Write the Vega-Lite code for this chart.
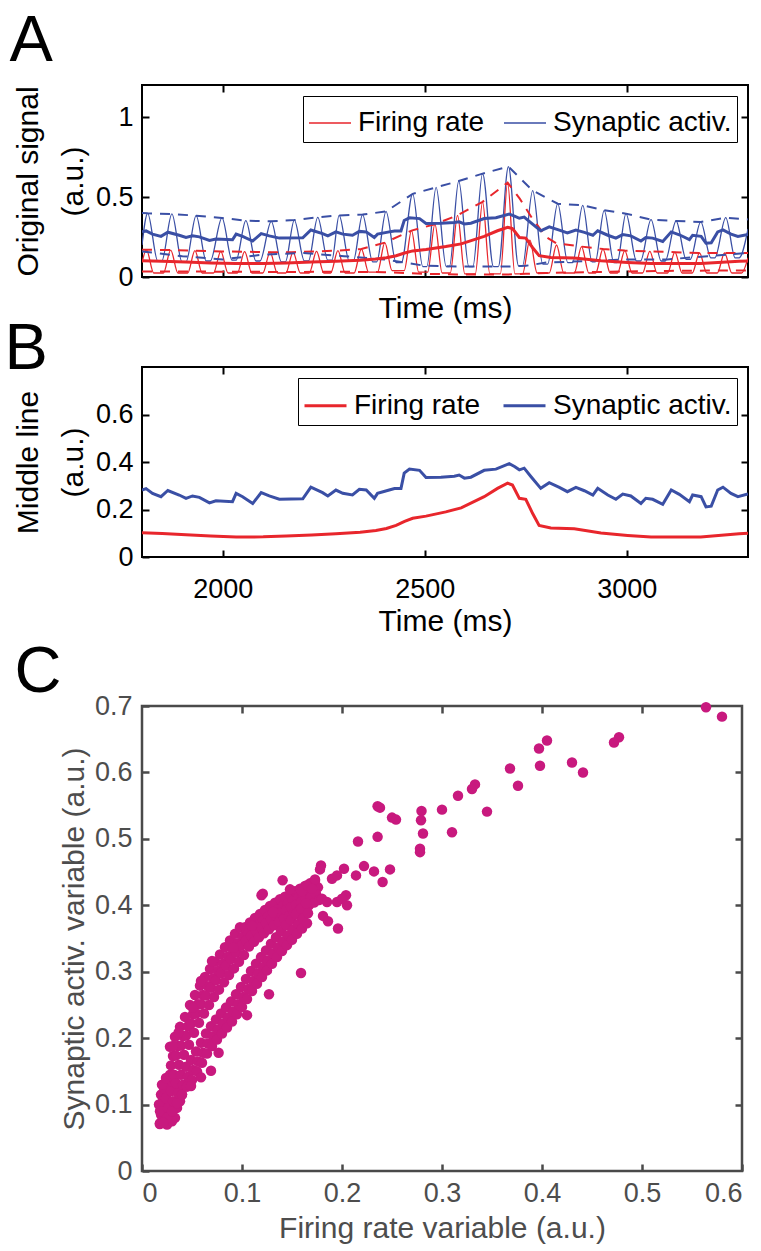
{
  "$schema": "https://vega.github.io/schema/vega-lite/v6.json",
  "background": "white",
  "padding": {"left": 3, "top": 8, "right": 0, "bottom": 0},
  "spacing": -8,
  "config": {
    "font": "Liberation Sans",
    "view": {"stroke": "black", "strokeWidth": 2},
    "axis": {"grid": false, "domain": false, "labelFont": "Liberation Sans", "titleFont": "Liberation Sans", "labelFontSize": 27, "titleFontSize": 30, "titleFontWeight": "normal", "labelColor": "black", "titleColor": "black", "tickColor": "black", "tickWidth": 2, "tickSize": 7, "offset": -7},
    "title": {"font": "Liberation Sans", "fontSize": 65, "fontWeight": "normal", "anchor": "start", "frame": "bounds", "color": "black"},
    "legend": {"title": null, "orient": "top-right", "direction": "horizontal", "offset": 11, "padding": 5, "strokeColor": "black", "fillColor": "white", "labelFont": "Liberation Sans", "labelFontSize": 28, "labelColor": "black", "labelOffset": 6, "labelLimit": 0, "symbolType": "stroke", "symbolSize": 1764, "columnPadding": 16, "symbolDash": [1, 0]}
  },
  "datasets": {
    "raw": [
      {"s":"Synaptic activ.","t":1800,"v":0.20},{"s":"Synaptic activ.","t":1814,"v":0.398},{"s":"Synaptic activ.","t":1839,"v":0.10},{"s":"Synaptic activ.","t":1849,"v":0.10},
      {"s":"Synaptic activ.","t":1874,"v":0.394},{"s":"Synaptic activ.","t":1899,"v":0.095},{"s":"Synaptic activ.","t":1909,"v":0.095},
      {"s":"Synaptic activ.","t":1934,"v":0.383},{"s":"Synaptic activ.","t":1959,"v":0.10},{"s":"Synaptic activ.","t":1969,"v":0.10},
      {"s":"Synaptic activ.","t":1998,"v":0.369},{"s":"Synaptic activ.","t":2023,"v":0.105},{"s":"Synaptic activ.","t":2033,"v":0.105},
      {"s":"Synaptic activ.","t":2057,"v":0.352},{"s":"Synaptic activ.","t":2082,"v":0.10},{"s":"Synaptic activ.","t":2092,"v":0.10},
      {"s":"Synaptic activ.","t":2120,"v":0.348},{"s":"Synaptic activ.","t":2145,"v":0.095},{"s":"Synaptic activ.","t":2155,"v":0.095},
      {"s":"Synaptic activ.","t":2177,"v":0.356},{"s":"Synaptic activ.","t":2202,"v":0.10},{"s":"Synaptic activ.","t":2212,"v":0.10},
      {"s":"Synaptic activ.","t":2235,"v":0.373},{"s":"Synaptic activ.","t":2260,"v":0.105},{"s":"Synaptic activ.","t":2270,"v":0.105},
      {"s":"Synaptic activ.","t":2288,"v":0.385},{"s":"Synaptic activ.","t":2313,"v":0.10},{"s":"Synaptic activ.","t":2323,"v":0.10},
      {"s":"Synaptic activ.","t":2346,"v":0.39},{"s":"Synaptic activ.","t":2371,"v":0.095},{"s":"Synaptic activ.","t":2381,"v":0.095},
      {"s":"Synaptic activ.","t":2404,"v":0.41},{"s":"Synaptic activ.","t":2429,"v":0.09},{"s":"Synaptic activ.","t":2442,"v":0.09},
      {"s":"Synaptic activ.","t":2470,"v":0.52},{"s":"Synaptic activ.","t":2495,"v":0.065},{"s":"Synaptic activ.","t":2505,"v":0.065},
      {"s":"Synaptic activ.","t":2528,"v":0.56},{"s":"Synaptic activ.","t":2553,"v":0.065},{"s":"Synaptic activ.","t":2561,"v":0.065},
      {"s":"Synaptic activ.","t":2584,"v":0.60},{"s":"Synaptic activ.","t":2609,"v":0.065},{"s":"Synaptic activ.","t":2619,"v":0.065},
      {"s":"Synaptic activ.","t":2643,"v":0.646},{"s":"Synaptic activ.","t":2670,"v":0.065},{"s":"Synaptic activ.","t":2682,"v":0.065},
      {"s":"Synaptic activ.","t":2707,"v":0.69},{"s":"Synaptic activ.","t":2732,"v":0.07},{"s":"Synaptic activ.","t":2742,"v":0.07},
      {"s":"Synaptic activ.","t":2767,"v":0.54},{"s":"Synaptic activ.","t":2792,"v":0.08},{"s":"Synaptic activ.","t":2804,"v":0.08},
      {"s":"Synaptic activ.","t":2829,"v":0.458},{"s":"Synaptic activ.","t":2854,"v":0.09},{"s":"Synaptic activ.","t":2866,"v":0.09},
      {"s":"Synaptic activ.","t":2891,"v":0.448},{"s":"Synaptic activ.","t":2914,"v":0.095},{"s":"Synaptic activ.","t":2922,"v":0.095},
      {"s":"Synaptic activ.","t":2944,"v":0.417},{"s":"Synaptic activ.","t":2968,"v":0.09},{"s":"Synaptic activ.","t":2976,"v":0.09},
      {"s":"Synaptic activ.","t":2998,"v":0.396},{"s":"Synaptic activ.","t":3024,"v":0.10},{"s":"Synaptic activ.","t":3034,"v":0.10},
      {"s":"Synaptic activ.","t":3060,"v":0.358},{"s":"Synaptic activ.","t":3085,"v":0.10},{"s":"Synaptic activ.","t":3095,"v":0.10},
      {"s":"Synaptic activ.","t":3122,"v":0.35},{"s":"Synaptic activ.","t":3147,"v":0.11},{"s":"Synaptic activ.","t":3157,"v":0.11},
      {"s":"Synaptic activ.","t":3183,"v":0.344},{"s":"Synaptic activ.","t":3208,"v":0.12},{"s":"Synaptic activ.","t":3218,"v":0.12},
      {"s":"Synaptic activ.","t":3245,"v":0.371},{"s":"Synaptic activ.","t":3268,"v":0.12},{"s":"Synaptic activ.","t":3278,"v":0.12},
      {"s":"Synaptic activ.","t":3300,"v":0.30},
      {"s":"Firing rate","t":1800,"v":0.09},{"s":"Firing rate","t":1811,"v":0.17},{"s":"Firing rate","t":1829,"v":0.025},{"s":"Firing rate","t":1853,"v":0.025},
      {"s":"Firing rate","t":1871,"v":0.168},{"s":"Firing rate","t":1889,"v":0.025},{"s":"Firing rate","t":1913,"v":0.025},
      {"s":"Firing rate","t":1931,"v":0.165},{"s":"Firing rate","t":1949,"v":0.025},{"s":"Firing rate","t":1977,"v":0.025},
      {"s":"Firing rate","t":1995,"v":0.16},{"s":"Firing rate","t":2013,"v":0.025},{"s":"Firing rate","t":2036,"v":0.025},
      {"s":"Firing rate","t":2054,"v":0.158},{"s":"Firing rate","t":2072,"v":0.025},{"s":"Firing rate","t":2099,"v":0.025},
      {"s":"Firing rate","t":2117,"v":0.155},{"s":"Firing rate","t":2135,"v":0.025},{"s":"Firing rate","t":2156,"v":0.025},
      {"s":"Firing rate","t":2174,"v":0.155},{"s":"Firing rate","t":2192,"v":0.025},{"s":"Firing rate","t":2214,"v":0.025},
      {"s":"Firing rate","t":2232,"v":0.16},{"s":"Firing rate","t":2250,"v":0.025},{"s":"Firing rate","t":2267,"v":0.025},
      {"s":"Firing rate","t":2285,"v":0.165},{"s":"Firing rate","t":2303,"v":0.025},{"s":"Firing rate","t":2325,"v":0.025},
      {"s":"Firing rate","t":2343,"v":0.175},{"s":"Firing rate","t":2361,"v":0.03},{"s":"Firing rate","t":2383,"v":0.03},
      {"s":"Firing rate","t":2401,"v":0.215},{"s":"Firing rate","t":2419,"v":0.04},{"s":"Firing rate","t":2449,"v":0.04},
      {"s":"Firing rate","t":2467,"v":0.29},{"s":"Firing rate","t":2485,"v":0.03},{"s":"Firing rate","t":2507,"v":0.03},
      {"s":"Firing rate","t":2525,"v":0.33},{"s":"Firing rate","t":2543,"v":0.025},{"s":"Firing rate","t":2563,"v":0.025},
      {"s":"Firing rate","t":2581,"v":0.385},{"s":"Firing rate","t":2599,"v":0.02},{"s":"Firing rate","t":2625,"v":0.02},
      {"s":"Firing rate","t":2643,"v":0.47},{"s":"Firing rate","t":2661,"v":0.02},{"s":"Firing rate","t":2687,"v":0.02},
      {"s":"Firing rate","t":2705,"v":0.59},{"s":"Firing rate","t":2723,"v":0.02},{"s":"Firing rate","t":2742,"v":0.02},
      {"s":"Firing rate","t":2760,"v":0.23},{"s":"Firing rate","t":2778,"v":0.025},{"s":"Firing rate","t":2808,"v":0.025},
      {"s":"Firing rate","t":2826,"v":0.20},{"s":"Firing rate","t":2844,"v":0.025},{"s":"Firing rate","t":2870,"v":0.025},
      {"s":"Firing rate","t":2888,"v":0.19},{"s":"Firing rate","t":2906,"v":0.025},{"s":"Firing rate","t":2923,"v":0.025},
      {"s":"Firing rate","t":2941,"v":0.175},{"s":"Firing rate","t":2959,"v":0.025},{"s":"Firing rate","t":2977,"v":0.025},
      {"s":"Firing rate","t":2995,"v":0.165},{"s":"Firing rate","t":3013,"v":0.025},{"s":"Firing rate","t":3039,"v":0.025},
      {"s":"Firing rate","t":3057,"v":0.16},{"s":"Firing rate","t":3075,"v":0.025},{"s":"Firing rate","t":3101,"v":0.025},
      {"s":"Firing rate","t":3119,"v":0.155},{"s":"Firing rate","t":3137,"v":0.025},{"s":"Firing rate","t":3162,"v":0.025},
      {"s":"Firing rate","t":3180,"v":0.15},{"s":"Firing rate","t":3198,"v":0.025},{"s":"Firing rate","t":3224,"v":0.025},
      {"s":"Firing rate","t":3242,"v":0.15},{"s":"Firing rate","t":3260,"v":0.025},{"s":"Firing rate","t":3284,"v":0.025},
      {"s":"Firing rate","t":3300,"v":0.12}
    ],
    "env": [
      {"s":"Firing rate","k":"up","t":1800,"v":0.17},{"s":"Firing rate","k":"up","t":1811,"v":0.17},{"s":"Firing rate","k":"up","t":1871,"v":0.168},{"s":"Firing rate","k":"up","t":1931,"v":0.165},{"s":"Firing rate","k":"up","t":1995,"v":0.16},{"s":"Firing rate","k":"up","t":2054,"v":0.158},{"s":"Firing rate","k":"up","t":2117,"v":0.155},{"s":"Firing rate","k":"up","t":2174,"v":0.155},{"s":"Firing rate","k":"up","t":2232,"v":0.16},{"s":"Firing rate","k":"up","t":2285,"v":0.165},{"s":"Firing rate","k":"up","t":2343,"v":0.175},{"s":"Firing rate","k":"up","t":2401,"v":0.215},{"s":"Firing rate","k":"up","t":2467,"v":0.29},{"s":"Firing rate","k":"up","t":2525,"v":0.33},{"s":"Firing rate","k":"up","t":2581,"v":0.385},{"s":"Firing rate","k":"up","t":2643,"v":0.47},{"s":"Firing rate","k":"up","t":2705,"v":0.59},{"s":"Firing rate","k":"up","t":2735,"v":0.49},{"s":"Firing rate","k":"up","t":2765,"v":0.37},{"s":"Firing rate","k":"up","t":2800,"v":0.25},{"s":"Firing rate","k":"up","t":2826,"v":0.21},{"s":"Firing rate","k":"up","t":2888,"v":0.19},{"s":"Firing rate","k":"up","t":2941,"v":0.175},{"s":"Firing rate","k":"up","t":2995,"v":0.165},{"s":"Firing rate","k":"up","t":3057,"v":0.16},{"s":"Firing rate","k":"up","t":3119,"v":0.155},{"s":"Firing rate","k":"up","t":3180,"v":0.15},{"s":"Firing rate","k":"up","t":3242,"v":0.15},{"s":"Firing rate","k":"up","t":3300,"v":0.15},
      {"s":"Firing rate","k":"lo","t":1800,"v":0.035},{"s":"Firing rate","k":"lo","t":1900,"v":0.035},{"s":"Firing rate","k":"lo","t":2000,"v":0.033},{"s":"Firing rate","k":"lo","t":2100,"v":0.032},{"s":"Firing rate","k":"lo","t":2200,"v":0.032},{"s":"Firing rate","k":"lo","t":2300,"v":0.033},{"s":"Firing rate","k":"lo","t":2400,"v":0.03},{"s":"Firing rate","k":"lo","t":2500,"v":0.02},{"s":"Firing rate","k":"lo","t":2600,"v":0.015},{"s":"Firing rate","k":"lo","t":2700,"v":0.015},{"s":"Firing rate","k":"lo","t":2750,"v":0.02},{"s":"Firing rate","k":"lo","t":2800,"v":0.025},{"s":"Firing rate","k":"lo","t":2900,"v":0.03},{"s":"Firing rate","k":"lo","t":3000,"v":0.035},{"s":"Firing rate","k":"lo","t":3100,"v":0.038},{"s":"Firing rate","k":"lo","t":3200,"v":0.04},{"s":"Firing rate","k":"lo","t":3300,"v":0.04},
      {"s":"Synaptic activ.","k":"up","t":1800,"v":0.40},{"s":"Synaptic activ.","k":"up","t":1814,"v":0.398},{"s":"Synaptic activ.","k":"up","t":1874,"v":0.394},{"s":"Synaptic activ.","k":"up","t":1934,"v":0.383},{"s":"Synaptic activ.","k":"up","t":1998,"v":0.369},{"s":"Synaptic activ.","k":"up","t":2057,"v":0.352},{"s":"Synaptic activ.","k":"up","t":2120,"v":0.348},{"s":"Synaptic activ.","k":"up","t":2177,"v":0.356},{"s":"Synaptic activ.","k":"up","t":2235,"v":0.373},{"s":"Synaptic activ.","k":"up","t":2288,"v":0.385},{"s":"Synaptic activ.","k":"up","t":2346,"v":0.39},{"s":"Synaptic activ.","k":"up","t":2404,"v":0.41},{"s":"Synaptic activ.","k":"up","t":2470,"v":0.52},{"s":"Synaptic activ.","k":"up","t":2528,"v":0.56},{"s":"Synaptic activ.","k":"up","t":2584,"v":0.60},{"s":"Synaptic activ.","k":"up","t":2643,"v":0.646},{"s":"Synaptic activ.","k":"up","t":2707,"v":0.69},{"s":"Synaptic activ.","k":"up","t":2767,"v":0.54},{"s":"Synaptic activ.","k":"up","t":2829,"v":0.458},{"s":"Synaptic activ.","k":"up","t":2891,"v":0.448},{"s":"Synaptic activ.","k":"up","t":2944,"v":0.417},{"s":"Synaptic activ.","k":"up","t":2998,"v":0.396},{"s":"Synaptic activ.","k":"up","t":3060,"v":0.358},{"s":"Synaptic activ.","k":"up","t":3122,"v":0.35},{"s":"Synaptic activ.","k":"up","t":3183,"v":0.344},{"s":"Synaptic activ.","k":"up","t":3245,"v":0.371},{"s":"Synaptic activ.","k":"up","t":3300,"v":0.36},
      {"s":"Synaptic activ.","k":"lo","t":1800,"v":0.16},{"s":"Synaptic activ.","k":"lo","t":1900,"v":0.13},{"s":"Synaptic activ.","k":"lo","t":2000,"v":0.11},{"s":"Synaptic activ.","k":"lo","t":2100,"v":0.14},{"s":"Synaptic activ.","k":"lo","t":2200,"v":0.15},{"s":"Synaptic activ.","k":"lo","t":2300,"v":0.13},{"s":"Synaptic activ.","k":"lo","t":2400,"v":0.11},{"s":"Synaptic activ.","k":"lo","t":2450,"v":0.09},{"s":"Synaptic activ.","k":"lo","t":2500,"v":0.07},{"s":"Synaptic activ.","k":"lo","t":2600,"v":0.065},{"s":"Synaptic activ.","k":"lo","t":2700,"v":0.065},{"s":"Synaptic activ.","k":"lo","t":2750,"v":0.07},{"s":"Synaptic activ.","k":"lo","t":2800,"v":0.09},{"s":"Synaptic activ.","k":"lo","t":2900,"v":0.10},{"s":"Synaptic activ.","k":"lo","t":3000,"v":0.11},{"s":"Synaptic activ.","k":"lo","t":3100,"v":0.11},{"s":"Synaptic activ.","k":"lo","t":3200,"v":0.13},{"s":"Synaptic activ.","k":"lo","t":3300,"v":0.15}
    ],
    "mid": [
      {"s":"Firing rate","t":1800,"v":0.102},{"s":"Firing rate","t":1850,"v":0.099},{"s":"Firing rate","t":1909,"v":0.094},{"s":"Firing rate","t":1970,"v":0.088},{"s":"Firing rate","t":2033,"v":0.084},{"s":"Firing rate","t":2100,"v":0.085},{"s":"Firing rate","t":2157,"v":0.088},{"s":"Firing rate","t":2220,"v":0.093},{"s":"Firing rate","t":2280,"v":0.098},{"s":"Firing rate","t":2340,"v":0.104},{"s":"Firing rate","t":2379,"v":0.112},{"s":"Firing rate","t":2405,"v":0.12},{"s":"Firing rate","t":2429,"v":0.133},{"s":"Firing rate","t":2450,"v":0.15},{"s":"Firing rate","t":2470,"v":0.163},{"s":"Firing rate","t":2503,"v":0.172},{"s":"Firing rate","t":2552,"v":0.19},{"s":"Firing rate","t":2590,"v":0.207},{"s":"Firing rate","t":2647,"v":0.254},{"s":"Firing rate","t":2680,"v":0.289},{"s":"Firing rate","t":2705,"v":0.311},{"s":"Firing rate","t":2717,"v":0.303},{"s":"Firing rate","t":2734,"v":0.247},{"s":"Firing rate","t":2750,"v":0.243},{"s":"Firing rate","t":2767,"v":0.183},{"s":"Firing rate","t":2783,"v":0.133},{"s":"Firing rate","t":2812,"v":0.122},{"s":"Firing rate","t":2870,"v":0.119},{"s":"Firing rate","t":2936,"v":0.101},{"s":"Firing rate","t":3002,"v":0.091},{"s":"Firing rate","t":3060,"v":0.084},{"s":"Firing rate","t":3183,"v":0.084},{"s":"Firing rate","t":3278,"v":0.098},{"s":"Firing rate","t":3300,"v":0.1},
      {"s":"Synaptic activ.","t":1800,"v":0.282},{"s":"Synaptic activ.","t":1810,"v":0.288},{"s":"Synaptic activ.","t":1826,"v":0.268},{"s":"Synaptic activ.","t":1847,"v":0.254},{"s":"Synaptic activ.","t":1864,"v":0.28},{"s":"Synaptic activ.","t":1892,"v":0.261},{"s":"Synaptic activ.","t":1909,"v":0.247},{"s":"Synaptic activ.","t":1925,"v":0.257},{"s":"Synaptic activ.","t":1942,"v":0.251},{"s":"Synaptic activ.","t":1967,"v":0.228},{"s":"Synaptic activ.","t":1983,"v":0.237},{"s":"Synaptic activ.","t":2024,"v":0.233},{"s":"Synaptic activ.","t":2033,"v":0.268},{"s":"Synaptic activ.","t":2049,"v":0.254},{"s":"Synaptic activ.","t":2074,"v":0.225},{"s":"Synaptic activ.","t":2095,"v":0.271},{"s":"Synaptic activ.","t":2115,"v":0.257},{"s":"Synaptic activ.","t":2140,"v":0.243},{"s":"Synaptic activ.","t":2198,"v":0.245},{"s":"Synaptic activ.","t":2218,"v":0.294},{"s":"Synaptic activ.","t":2247,"v":0.271},{"s":"Synaptic activ.","t":2260,"v":0.257},{"s":"Synaptic activ.","t":2280,"v":0.282},{"s":"Synaptic activ.","t":2297,"v":0.268},{"s":"Synaptic activ.","t":2321,"v":0.261},{"s":"Synaptic activ.","t":2338,"v":0.285},{"s":"Synaptic activ.","t":2355,"v":0.282},{"s":"Synaptic activ.","t":2375,"v":0.247},{"s":"Synaptic activ.","t":2383,"v":0.268},{"s":"Synaptic activ.","t":2412,"v":0.282},{"s":"Synaptic activ.","t":2425,"v":0.288},{"s":"Synaptic activ.","t":2441,"v":0.288},{"s":"Synaptic activ.","t":2449,"v":0.353},{"s":"Synaptic activ.","t":2462,"v":0.37},{"s":"Synaptic activ.","t":2487,"v":0.365},{"s":"Synaptic activ.","t":2503,"v":0.335},{"s":"Synaptic activ.","t":2540,"v":0.336},{"s":"Synaptic activ.","t":2573,"v":0.34},{"s":"Synaptic activ.","t":2585,"v":0.345},{"s":"Synaptic activ.","t":2598,"v":0.332},{"s":"Synaptic activ.","t":2614,"v":0.336},{"s":"Synaptic activ.","t":2647,"v":0.365},{"s":"Synaptic activ.","t":2676,"v":0.37},{"s":"Synaptic activ.","t":2709,"v":0.393},{"s":"Synaptic activ.","t":2722,"v":0.381},{"s":"Synaptic activ.","t":2734,"v":0.367},{"s":"Synaptic activ.","t":2746,"v":0.374},{"s":"Synaptic activ.","t":2763,"v":0.338},{"s":"Synaptic activ.","t":2787,"v":0.289},{"s":"Synaptic activ.","t":2808,"v":0.313},{"s":"Synaptic activ.","t":2833,"v":0.293},{"s":"Synaptic activ.","t":2853,"v":0.275},{"s":"Synaptic activ.","t":2874,"v":0.293},{"s":"Synaptic activ.","t":2895,"v":0.279},{"s":"Synaptic activ.","t":2916,"v":0.261},{"s":"Synaptic activ.","t":2928,"v":0.289},{"s":"Synaptic activ.","t":2953,"v":0.261},{"s":"Synaptic activ.","t":2973,"v":0.243},{"s":"Synaptic activ.","t":2990,"v":0.265},{"s":"Synaptic activ.","t":3010,"v":0.257},{"s":"Synaptic activ.","t":3035,"v":0.225},{"s":"Synaptic activ.","t":3047,"v":0.247},{"s":"Synaptic activ.","t":3064,"v":0.243},{"s":"Synaptic activ.","t":3089,"v":0.222},{"s":"Synaptic activ.","t":3110,"v":0.282},{"s":"Synaptic activ.","t":3130,"v":0.264},{"s":"Synaptic activ.","t":3155,"v":0.233},{"s":"Synaptic activ.","t":3163,"v":0.261},{"s":"Synaptic activ.","t":3184,"v":0.254},{"s":"Synaptic activ.","t":3196,"v":0.211},{"s":"Synaptic activ.","t":3209,"v":0.214},{"s":"Synaptic activ.","t":3225,"v":0.282},{"s":"Synaptic activ.","t":3238,"v":0.294},{"s":"Synaptic activ.","t":3258,"v":0.268},{"s":"Synaptic activ.","t":3275,"v":0.254},{"s":"Synaptic activ.","t":3300,"v":0.265}
    ],
    "sc": [
      {"x":0.018,"y":0.072},{"x":0.02,"y":0.075},{"x":0.022,"y":0.08},{"x":0.019,"y":0.085},{"x":0.023,"y":0.09},{"x":0.02,"y":0.095},{"x":0.025,"y":0.085},{"x":0.027,"y":0.1},{"x":0.021,"y":0.105},{"x":0.024,"y":0.11},{"x":0.019,"y":0.115},{"x":0.026,"y":0.12},{"x":0.03,"y":0.09},{"x":0.032,"y":0.1},{"x":0.028,"y":0.13},{"x":0.022,"y":0.125},{"x":0.033,"y":0.08},{"x":0.035,"y":0.095},{"x":0.038,"y":0.105},{"x":0.025,"y":0.07},{"x":0.03,"y":0.075},{"x":0.017,"y":0.1},{"x":0.02,"y":0.13},{"x":0.024,"y":0.14},{"x":0.028,"y":0.145},{"x":0.032,"y":0.14},{"x":0.036,"y":0.125},{"x":0.04,"y":0.115},{"x":0.018,"y":0.09},
      {"x":0.028,"y":0.187},{"x":0.031,"y":0.173},{"x":0.029,"y":0.159},{"x":0.032,"y":0.145},
      {"x":0.033,"y":0.202},{"x":0.036,"y":0.188},{"x":0.034,"y":0.174},{"x":0.037,"y":0.16},
      {"x":0.038,"y":0.217},{"x":0.041,"y":0.203},{"x":0.039,"y":0.189},{"x":0.042,"y":0.175},
      {"x":0.043,"y":0.232},{"x":0.046,"y":0.218},{"x":0.044,"y":0.204},{"x":0.047,"y":0.19},
      {"x":0.048,"y":0.25},{"x":0.051,"y":0.236},{"x":0.049,"y":0.222},{"x":0.052,"y":0.208},
      {"x":0.053,"y":0.265},{"x":0.056,"y":0.251},{"x":0.054,"y":0.237},{"x":0.057,"y":0.223},
      {"x":0.058,"y":0.279},{"x":0.061,"y":0.265},{"x":0.059,"y":0.251},{"x":0.062,"y":0.237},
      {"x":0.063,"y":0.292},{"x":0.066,"y":0.278},{"x":0.064,"y":0.264},{"x":0.067,"y":0.25},
      {"x":0.068,"y":0.304},{"x":0.071,"y":0.29},{"x":0.069,"y":0.276},{"x":0.072,"y":0.262},
      {"x":0.073,"y":0.315},{"x":0.076,"y":0.301},{"x":0.074,"y":0.287},{"x":0.077,"y":0.273},
      {"x":0.078,"y":0.326},{"x":0.081,"y":0.312},{"x":0.079,"y":0.298},{"x":0.082,"y":0.284},
      {"x":0.083,"y":0.337},{"x":0.086,"y":0.323},{"x":0.084,"y":0.309},{"x":0.087,"y":0.295},
      {"x":0.088,"y":0.347},{"x":0.091,"y":0.333},{"x":0.089,"y":0.319},{"x":0.092,"y":0.305},
      {"x":0.093,"y":0.357},{"x":0.096,"y":0.343},{"x":0.094,"y":0.329},{"x":0.097,"y":0.315},
      {"x":0.098,"y":0.367},{"x":0.101,"y":0.353},{"x":0.099,"y":0.339},{"x":0.102,"y":0.325},
      {"x":0.103,"y":0.367},{"x":0.106,"y":0.357},{"x":0.104,"y":0.347},{"x":0.107,"y":0.338},
      {"x":0.108,"y":0.374},{"x":0.111,"y":0.364},{"x":0.109,"y":0.354},{"x":0.112,"y":0.345},
      {"x":0.113,"y":0.381},{"x":0.116,"y":0.371},{"x":0.114,"y":0.361},{"x":0.117,"y":0.352},
      {"x":0.118,"y":0.387},{"x":0.121,"y":0.377},{"x":0.119,"y":0.367},{"x":0.122,"y":0.358},
      {"x":0.123,"y":0.393},{"x":0.126,"y":0.383},{"x":0.124,"y":0.373},{"x":0.127,"y":0.364},
      {"x":0.128,"y":0.399},{"x":0.131,"y":0.389},{"x":0.129,"y":0.379},{"x":0.132,"y":0.37},
      {"x":0.133,"y":0.404},{"x":0.136,"y":0.394},{"x":0.134,"y":0.384},{"x":0.137,"y":0.375},
      {"x":0.138,"y":0.409},{"x":0.141,"y":0.399},{"x":0.139,"y":0.389},{"x":0.142,"y":0.38},
      {"x":0.143,"y":0.413},{"x":0.146,"y":0.403},{"x":0.144,"y":0.393},{"x":0.147,"y":0.384},
      {"x":0.148,"y":0.417},{"x":0.151,"y":0.407},{"x":0.149,"y":0.397},{"x":0.152,"y":0.388},
      {"x":0.153,"y":0.421},{"x":0.156,"y":0.411},{"x":0.154,"y":0.401},{"x":0.157,"y":0.392},
      {"x":0.158,"y":0.425},{"x":0.161,"y":0.415},{"x":0.159,"y":0.405},{"x":0.162,"y":0.396},
      {"x":0.163,"y":0.429},{"x":0.166,"y":0.419},{"x":0.164,"y":0.409},{"x":0.167,"y":0.4},
      {"x":0.168,"y":0.433},{"x":0.171,"y":0.423},{"x":0.169,"y":0.413},{"x":0.172,"y":0.404},
      {"x":0.173,"y":0.437},{"x":0.176,"y":0.427},{"x":0.174,"y":0.417},{"x":0.177,"y":0.408},
      {"x":0.024,"y":0.11},{"x":0.026,"y":0.095},{"x":0.025,"y":0.08},
      {"x":0.029,"y":0.12},{"x":0.031,"y":0.105},{"x":0.03,"y":0.09},
      {"x":0.034,"y":0.132},{"x":0.036,"y":0.117},{"x":0.035,"y":0.102},
      {"x":0.039,"y":0.145},{"x":0.041,"y":0.13},{"x":0.04,"y":0.115},
      {"x":0.044,"y":0.157},{"x":0.046,"y":0.142},{"x":0.045,"y":0.127},
      {"x":0.049,"y":0.167},{"x":0.051,"y":0.152},{"x":0.05,"y":0.137},
      {"x":0.054,"y":0.18},{"x":0.056,"y":0.165},{"x":0.055,"y":0.15},
      {"x":0.059,"y":0.193},{"x":0.061,"y":0.178},{"x":0.06,"y":0.163},
      {"x":0.064,"y":0.207},{"x":0.066,"y":0.192},{"x":0.065,"y":0.177},
      {"x":0.069,"y":0.218},{"x":0.071,"y":0.203},{"x":0.07,"y":0.188},
      {"x":0.074,"y":0.228},{"x":0.076,"y":0.213},{"x":0.075,"y":0.198},
      {"x":0.079,"y":0.237},{"x":0.081,"y":0.222},{"x":0.08,"y":0.207},
      {"x":0.084,"y":0.246},{"x":0.086,"y":0.231},{"x":0.085,"y":0.216},
      {"x":0.089,"y":0.255},{"x":0.091,"y":0.24},{"x":0.09,"y":0.225},
      {"x":0.094,"y":0.266},{"x":0.096,"y":0.251},{"x":0.095,"y":0.236},
      {"x":0.099,"y":0.277},{"x":0.101,"y":0.262},{"x":0.1,"y":0.247},
      {"x":0.104,"y":0.289},{"x":0.106,"y":0.274},{"x":0.105,"y":0.259},
      {"x":0.109,"y":0.301},{"x":0.111,"y":0.286},{"x":0.11,"y":0.271},
      {"x":0.114,"y":0.312},{"x":0.116,"y":0.297},{"x":0.115,"y":0.282},
      {"x":0.119,"y":0.322},{"x":0.121,"y":0.307},{"x":0.12,"y":0.292},
      {"x":0.124,"y":0.332},{"x":0.126,"y":0.317},{"x":0.125,"y":0.302},
      {"x":0.129,"y":0.342},{"x":0.131,"y":0.327},{"x":0.13,"y":0.312},
      {"x":0.134,"y":0.352},{"x":0.136,"y":0.337},{"x":0.135,"y":0.322},
      {"x":0.139,"y":0.361},{"x":0.141,"y":0.346},{"x":0.14,"y":0.331},
      {"x":0.144,"y":0.37},{"x":0.146,"y":0.355},{"x":0.145,"y":0.34},
      {"x":0.149,"y":0.378},{"x":0.151,"y":0.363},{"x":0.15,"y":0.348},
      {"x":0.154,"y":0.387},{"x":0.156,"y":0.372},{"x":0.155,"y":0.357},
      {"x":0.159,"y":0.395},{"x":0.161,"y":0.38},{"x":0.16,"y":0.365},
      {"x":0.164,"y":0.403},{"x":0.166,"y":0.388},{"x":0.165,"y":0.373},
      {"x":0.2356,"y":0.549},{"x":0.238,"y":0.547},{"x":0.25,"y":0.532},{"x":0.254,"y":0.529},{"x":0.2795,"y":0.542},{"x":0.279,"y":0.528},{"x":0.281,"y":0.508},{"x":0.278,"y":0.485},{"x":0.278,"y":0.48},{"x":0.2356,"y":0.503},{"x":0.216,"y":0.496},{"x":0.232,"y":0.451},{"x":0.2406,"y":0.435},{"x":0.248,"y":0.454},{"x":0.222,"y":0.459},{"x":0.202,"y":0.455},{"x":0.214,"y":0.445},{"x":0.204,"y":0.415},{"x":0.205,"y":0.4},{"x":0.195,"y":0.405},{"x":0.179,"y":0.46},{"x":0.178,"y":0.454},{"x":0.173,"y":0.439},{"x":0.1406,"y":0.4376},{"x":0.148,"y":0.424},{"x":0.16,"y":0.4215},{"x":0.1208,"y":0.4175},{"x":0.1195,"y":0.415},{"x":0.181,"y":0.384},{"x":0.186,"y":0.376},{"x":0.196,"y":0.365},{"x":0.159,"y":0.298},{"x":0.127,"y":0.266},{"x":0.07,"y":0.316},{"x":0.0914,"y":0.336},{"x":0.11,"y":0.369},{"x":0.131,"y":0.39},{"x":0.059,"y":0.286},{"x":0.0508,"y":0.246},{"x":0.0366,"y":0.2085},{"x":0.031,"y":0.188},{"x":0.069,"y":0.151},{"x":0.059,"y":0.141},{"x":0.049,"y":0.128},{"x":0.105,"y":0.2346},{"x":0.0766,"y":0.178},{"x":0.0178,"y":0.0707},{"x":0.021,"y":0.073},
      {"x":0.564,"y":0.698},{"x":0.58,"y":0.684},{"x":0.477,"y":0.653},{"x":0.472,"y":0.645},{"x":0.405,"y":0.648},{"x":0.397,"y":0.636},{"x":0.398,"y":0.61},{"x":0.43,"y":0.615},{"x":0.441,"y":0.6},{"x":0.368,"y":0.606},{"x":0.376,"y":0.58},{"x":0.333,"y":0.582},{"x":0.316,"y":0.565},{"x":0.345,"y":0.541},{"x":0.3,"y":0.544},{"x":0.31,"y":0.51},{"x":0.33,"y":0.575},{"x":0.19,"y":0.44},{"x":0.195,"y":0.445},{"x":0.165,"y":0.43},{"x":0.17,"y":0.425},{"x":0.18,"y":0.41},{"x":0.185,"y":0.405},{"x":0.2,"y":0.41}
    ]
  },
  "vconcat": [
    {
      "title": {"text": "A", "dx": -4, "offset": 9},
      "width": 606,
      "height": 192,
      "resolve": {"axis": {"x": "independent", "y": "independent"}},
      "layer": [
        {
          "data": {"name": "raw"},
          "mark": {"type": "line", "strokeWidth": 1.3, "interpolate": "monotone", "clip": true},
          "encoding": {
            "x": {"field": "t", "type": "quantitative", "scale": {"domain": [1800, 3300], "nice": false, "zero": false}, "axis": {"values": [2000, 2500, 3000], "labels": false, "title": "Time (ms)", "titlePadding": 15}},
            "y": {"field": "v", "type": "quantitative", "scale": {"domain": [0, 1.2], "nice": false}, "axis": {"values": [0, 0.5, 1], "format": "~g", "title": ["Original signal", "(a.u.)"], "titleLineHeight": 45, "labelPadding": 9, "titlePadding": 7}},
            "color": {"field": "s", "type": "nominal", "scale": {"domain": ["Firing rate", "Synaptic activ."], "range": ["#e8262c", "#3a4fa5"]}, "legend": {"symbolStrokeWidth": 1.3}},
            "order": {"field": "t", "type": "quantitative"}
          }
        },
        {
          "data": {"name": "env"},
          "mark": {"type": "line", "strokeWidth": 2, "strokeDash": [10, 8], "clip": true},
          "encoding": {
            "x": {"field": "t", "type": "quantitative", "axis": null},
            "y": {"field": "v", "type": "quantitative", "axis": null},
            "color": {"field": "s", "type": "nominal"},
            "detail": {"field": "k", "type": "nominal"}
          }
        },
        {
          "data": {"name": "mid"},
          "mark": {"type": "line", "strokeWidth": 3, "clip": true},
          "encoding": {
            "x": {"field": "t", "type": "quantitative", "axis": null},
            "y": {"field": "v", "type": "quantitative", "axis": null},
            "color": {"field": "s", "type": "nominal"}
          }
        },
        {
          "data": {"name": "mid"},
          "mark": {"type": "line", "opacity": 0},
          "encoding": {
            "x": {"field": "t", "type": "quantitative", "axis": {"orient": "top", "values": [2000, 2500, 3000], "labels": false, "title": null}},
            "y": {"field": "v", "type": "quantitative", "axis": {"orient": "right", "values": [0, 0.5, 1], "labels": false, "title": null}},
            "detail": {"field": "s", "type": "nominal"}
          }
        }
      ]
    },
    {
      "title": {"text": "B", "dx": -9, "offset": -17},
      "width": 606,
      "height": 190,
      "resolve": {"axis": {"x": "independent", "y": "independent"}},
      "layer": [
        {
          "data": {"name": "mid"},
          "mark": {"type": "line", "strokeWidth": 3, "clip": true},
          "encoding": {
            "x": {"field": "t", "type": "quantitative", "scale": {"domain": [1800, 3300], "nice": false, "zero": false}, "axis": {"values": [2000, 2500, 3000], "format": "d", "title": "Time (ms)", "labelPadding": 19, "titlePadding": 4}},
            "y": {"field": "v", "type": "quantitative", "scale": {"domain": [0, 0.8], "nice": false}, "axis": {"values": [0, 0.2, 0.4, 0.6], "format": "~g", "title": ["Middle line", "(a.u.)"], "titleLineHeight": 45, "labelPadding": 9, "titlePadding": 7}},
            "color": {"field": "s", "type": "nominal", "scale": {"domain": ["Firing rate", "Synaptic activ."], "range": ["#e8262c", "#3a4fa5"]}, "legend": {"symbolStrokeWidth": 3}}
          }
        },
        {
          "data": {"name": "mid"},
          "mark": {"type": "line", "opacity": 0},
          "encoding": {
            "x": {"field": "t", "type": "quantitative", "axis": {"orient": "top", "values": [2000, 2500, 3000], "labels": false, "title": null}},
            "y": {"field": "v", "type": "quantitative", "axis": {"orient": "right", "values": [0.2, 0.4, 0.6], "labels": false, "title": null}},
            "detail": {"field": "s", "type": "nominal"}
          }
        }
      ]
    },
    {
      "title": {"text": [" ", "C"], "dx": -45, "offset": -14, "lineHeight": 9},
      "width": 600,
      "height": 465,
      "view": {"stroke": "#4a4a4a", "strokeWidth": 2.5},
      "data": {"name": "sc"},
      "resolve": {"axis": {"x": "independent", "y": "independent"}},
      "layer": [
        {
          "mark": {"type": "circle", "size": 110, "opacity": 1, "color": "#c8197e"},
          "encoding": {
            "x": {"field": "x", "type": "quantitative", "scale": {"domain": [0, 0.6], "nice": false}, "axis": {"values": [0, 0.1, 0.2, 0.3, 0.4, 0.5, 0.6], "format": "~g", "title": "Firing rate variable (a.u.)", "labelColor": "#4d4d4d", "titleColor": "#4d4d4d", "tickColor": "#4a4a4a", "tickWidth": 2.5, "labelPadding": 9, "titlePadding": 7}},
            "y": {"field": "y", "type": "quantitative", "scale": {"domain": [0, 0.7], "nice": false}, "axis": {"values": [0, 0.1, 0.2, 0.3, 0.4, 0.5, 0.6, 0.7], "format": "~g", "title": "Synaptic activ. variable (a.u.)", "labelColor": "#4d4d4d", "titleColor": "#4d4d4d", "tickColor": "#4a4a4a", "tickWidth": 2.5, "labelPadding": 10, "titlePadding": 5}}
          }
        },
        {
          "mark": {"type": "circle", "opacity": 0},
          "encoding": {
            "x": {"field": "x", "type": "quantitative", "axis": {"orient": "top", "values": [0.1, 0.2, 0.3, 0.4, 0.5], "labels": false, "title": null, "tickColor": "#4a4a4a", "tickWidth": 2.5}},
            "y": {"field": "y", "type": "quantitative", "axis": {"orient": "right", "values": [0.1, 0.2, 0.3, 0.4, 0.5, 0.6], "labels": false, "title": null, "tickColor": "#4a4a4a", "tickWidth": 2.5}}
          }
        }
      ]
    }
  ],
  "resolve": {"scale": {"color": "independent"}, "legend": {"color": "independent"}}
}
